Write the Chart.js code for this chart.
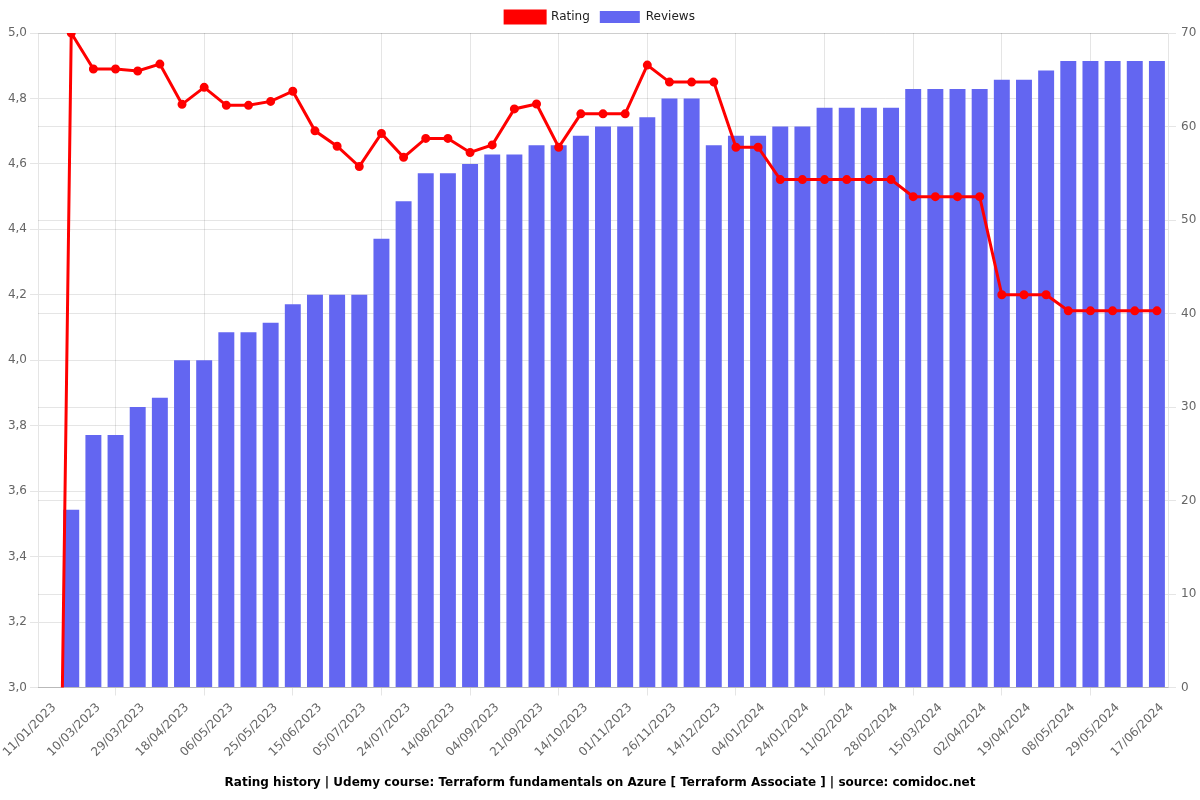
<!DOCTYPE html>
<html>
<head>
<meta charset="utf-8">
<script src="https://cdn.jsdelivr.net/npm/chart.js@4"></script>
<style>
  html, body { margin: 0; padding: 0; background: #fff; }
  #wrap { width: 1200px; height: 800px; }
</style>
</head>
<body>
<div id="wrap"><canvas id="c" width="1200" height="800"></canvas></div>
<script>
const dates = [
  "11/01/2023","20/02/2023","10/03/2023","19/03/2023","29/03/2023","08/04/2023","18/04/2023","27/04/2023",
  "06/05/2023","15/05/2023","25/05/2023","05/06/2023","15/06/2023","25/06/2023","05/07/2023","14/07/2023",
  "24/07/2023","03/08/2023","14/08/2023","24/08/2023","04/09/2023","12/09/2023","21/09/2023","03/10/2023",
  "14/10/2023","23/10/2023","01/11/2023","14/11/2023","26/11/2023","05/12/2023","14/12/2023","25/12/2023",
  "04/01/2024","14/01/2024","24/01/2024","02/02/2024","11/02/2024","19/02/2024","28/02/2024","06/03/2024",
  "15/03/2024","24/03/2024","02/04/2024","10/04/2024","19/04/2024","29/04/2024","08/05/2024","19/05/2024",
  "29/05/2024","07/06/2024","17/06/2024"
];
const rating = [
  0, 5.0, 4.89, 4.89, 4.884, 4.905, 4.782, 4.834, 4.779, 4.779, 4.791, 4.822, 4.701, 4.654, 4.592, 4.693,
  4.62, 4.678, 4.678, 4.635, 4.658, 4.768, 4.783, 4.651, 4.753, 4.753, 4.753, 4.902, 4.85, 4.85, 4.85, 4.651,
  4.651, 4.552, 4.552, 4.552, 4.552, 4.552, 4.552, 4.5, 4.5, 4.5, 4.5, 4.2, 4.2, 4.2, 4.151, 4.151,
  4.151, 4.151, 4.151
];
const reviews = [
  0, 19, 27, 27, 30, 31, 35, 35, 38, 38, 39, 41, 42, 42, 42, 48,
  52, 55, 55, 56, 57, 57, 58, 58, 59, 60, 60, 61, 63, 63, 58, 59,
  59, 60, 60, 62, 62, 62, 62, 64, 64, 64, 64, 65, 65, 66, 67, 67,
  67, 67, 67
];
const titleText = "Rating history | Udemy course: Terraform fundamentals on Azure [ Terraform Associate ] | source: comidoc.net";

Chart.defaults.font.family = "'DejaVu Sans', sans-serif";
Chart.defaults.font.size = 12;
Chart.defaults.color = '#666';

new Chart(document.getElementById('c'), {
  type: 'bar',
  data: {
    labels: dates,
    datasets: [
      {
        type: 'line',
        label: 'Rating',
        data: rating,
        yAxisID: 'y',
        borderColor: 'rgb(255,0,0)',
        backgroundColor: 'rgb(255,0,0)',
        borderWidth: 3,
        pointRadius: 3,
        pointBackgroundColor: 'rgb(255,0,0)',
        tension: 0
      },
      {
        type: 'bar',
        label: 'Reviews',
        data: reviews,
        yAxisID: 'y1',
        backgroundColor: '#6366f1',
        borderColor: '#6366f1',
        borderWidth: 0
      }
    ]
  },
  options: {
    responsive: false,
    animation: false,
    layout: { padding: { top: 1 } },
    plugins: {
      legend: {
        position: 'top',
        labels: { color: '#222' }
      },
      title: {
        display: true,
        position: 'bottom',
        text: titleText,
        color: '#000',
        font: { weight: 'bold', size: 12 }
      },
      tooltip: { enabled: false }
    },
    scales: {
      x: {
        ticks: { minRotation: 45, maxRotation: 45, autoSkip: true, maxTicksLimit: 26, padding: 5, labelOffset: 5 },
        afterFit: (scale) => { scale.paddingLeft = 0; scale.height += 1; }
      },
      y: {
        position: 'left',
        min: 3,
        max: 5,
        ticks: {
          stepSize: 0.2,
          callback: (v) => Number(v).toFixed(1).replace('.', ',')
        },
        afterFit: (scale) => { scale.width = 38; }
      },
      y1: {
        position: 'right',
        min: 0,
        max: 70,
        ticks: { stepSize: 10, padding: 5 },
        afterFit: (scale) => { scale.width = 32; }
      }
    }
  }
});
</script>
</body>
</html>
